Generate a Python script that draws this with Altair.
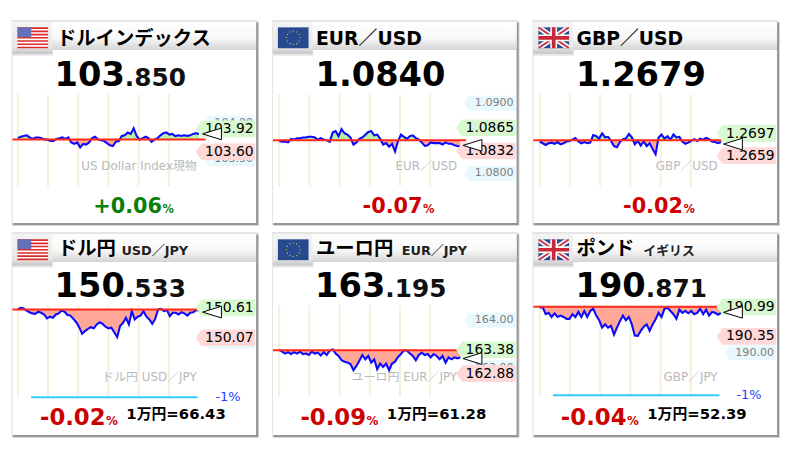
import altair as alt
import numpy as np
import pandas as pd

FONT = "DejaVu Sans, Noto Sans CJK JP"
W, H = 246, 203
PX_PER_HOUR = 30.5

# change against the previous close, in pips / hundredths
usd_index_moves = [2,4,5,6,3,1,3,3,2,0,0,-2,-2,1,2,3,1,3,-4,-6,-4,-11,-6,-7,-4,2,4,0,-1,-2,-5,-8,-9,-3,-2,5,6,10,8,16,5,0,2,4,2,-3,0,2,6,9,10,7,8,5,6,5,6,5,6,8,9,8]
eur_usd_moves = [-1,-2,-2,-3,2,1,3,3,4,4,5,5,4,1,3,1,0,-2,11,13,6,16,10,8,4,-6,-3,2,4,8,12,13,7,8,2,-6,-4,-9,-5,-16,-1,8,5,2,6,7,3,1,-3,-8,-7,-3,-4,-4,-4,-6,-3,-5,-5,-7,-8,-9]
gbp_usd_moves = [-2,-5,-8,-5,-4,-6,-3,-7,-5,-2,-1,1,4,-2,-5,-3,-5,-4,9,7,3,12,5,6,-1,-10,-12,-3,2,3,11,5,-7,-1,-9,-2,-10,-5,-15,-24,5,10,3,7,1,10,5,6,-2,-6,-4,-1,2,-1,3,1,4,2,-2,-3,-5,-3]
usd_jpy_moves = [0,3,2,-2,-5,-7,-8,-4,-6,-9,-16,-13,-15,-9,-7,-2,-4,-10,-11,-17,-23,-32,-44,-39,-35,-32,-34,-27,-23,-26,-31,-34,-33,-41,-50,-30,-24,-15,-27,-3,-18,-13,-11,-3,-13,-18,-26,-17,0,1,-3,-1,-12,-6,-6,-9,-5,-7,-11,-6,-5,-1,-2]
eur_jpy_moves = [1,-3,-7,-4,-8,-4,-7,-3,-8,-7,-10,-3,-7,-5,-11,-4,-10,-1,2,-7,-12,-21,-24,-26,-29,-42,-33,-22,-10,-19,-12,-26,-19,-40,-28,-35,-28,-42,-28,-24,-14,-8,0,-1,-7,-12,-21,-10,-5,-10,-8,-15,-8,-12,-19,-12,-26,-15,-19,-15,-17,-15]
gbp_jpy_moves = [-2,-1,-16,-13,-22,-14,-22,-19,-22,-26,-26,-16,-22,-11,-22,-9,-22,-9,-4,-19,-29,-45,-38,-45,-41,-60,-45,-31,-19,-29,-22,-38,-62,-63,-52,-43,-38,-52,-38,-27,-13,-22,-4,-2,-9,-16,-26,-6,-13,-9,-14,-9,-16,-13,-4,-16,-6,-19,-11,-13,-17,-13]

titles = ["ドルインデックス", "EUR／USD", "GBP／USD", "ドル円", "ユーロ円", "ポンド"]
subtitles = ["", "", "", "USD／JPY", "EUR／JPY", "イギリス"]
watermarks = ["US Dollar Index現物", "EUR／USD", "GBP／USD", "ドル円 USD／JPY", "ユーロ円 EUR／JPY", "GBP／JPY"]
flags = ["us", "eu", "uk", "us", "eu", "uk"]
prices_whole = ["103", "1.0840", "1.2679", "150", "163", "190"]
prices_frac = [".850", "", "", ".533", ".195", ".871"]
current = [103.85, 1.0840, 1.2679, 150.533, 163.195, 190.871]
changes = ["+0.06", "-0.07", "-0.02", "-0.02", "-0.09", "-0.04"]
per_10k = ["", "", "", "1万円=66.43", "1万円=61.28", "1万円=52.39"]
prev_close = [103.77, 1.08472, 1.26854, 150.58, 163.37, 190.99]
units = [0.01, 0.0001, 0.0001, 0.01, 0.01, 0.01]
y_domains = [[102.60, 105.42], [1.07296, 1.10155], [1.25432, 1.2889], [148.313, 151.946], [161.593, 165.81], [188.22, 192.566]]
highs = [103.92, 1.0865, 1.2697, 150.61, 163.38, 190.99]
lows = [103.60, 1.0832, 1.2659, 150.07, 162.88, 190.35]
high_labels = ["103.92", "1.0865", "1.2697", "150.61", "163.38", "190.99"]
low_labels = ["103.60", "1.0832", "1.2659", "150.07", "162.88", "190.35"]
round_prices = [[104.00, 103.50], [1.09, 1.08], [1.27], [150.00], [164.00, 163.00], [190.00]]
round_labels = [["104.00", "103.50"], ["1.0900", "1.0800"], ["1.2700"], ["150.00"], ["164.00", "163.00"], ["190.00"]]
minus_one = [None, None, None, 148.996, None, 189.076]
moves = [usd_index_moves, eur_usd_moves, gbp_usd_moves, usd_jpy_moves, eur_jpy_moves, gbp_jpy_moves]
hour_ticks = [0, 1, 2, 3, 4, 5]
x_starts = [5.4, 6.3, 6.4, 5.4, 6.3, 6.4]


def box(x0, y0, x1, y1):
    return f"M{x0:.3f},{y0:.3f}L{x1:.3f},{y0:.3f}L{x1:.3f},{y1:.3f}L{x0:.3f},{y1:.3f}Z"


def txt(text, x, y, size, color="#000", align="left", weight="normal"):
    return alt.Chart().mark_text(
        text=text, font=FONT, fontSize=size, color=color, align=align, baseline="alphabetic", fontWeight=weight
    ).encode(x=alt.value(x), y=alt.value(y))


def rect(x0, y0, x1, y1, fill, opacity=1):
    return alt.Chart().mark_rect(color=fill, opacity=opacity).encode(
        x=alt.value(x0), x2=alt.value(x1), y=alt.value(y0), y2=alt.value(y1))


def shape(path, color, cx=20.5, cy=16, size=961):
    return alt.Chart().mark_point(shape=path, filled=True, color=color, opacity=1, strokeWidth=0, size=size).encode(
        x=alt.value(cx), y=alt.value(cy))


def gradient(stops):
    return alt.LinearGradient(gradient="linear", x1=0, x2=0, y1=0, y2=1,
                              stops=[alt.GradientStop(offset=o, color=c) for o, c in stops])


def flag_layers(kind):
    T, B = -0.68, 0.68
    if kind == "us":
        stripes = "".join(box(-1, T + i * 0.1046, 1, T + (i + 1) * 0.1046) for i in range(0, 13, 2))
        return [shape(box(-1, T, 1, B), "#ffffff"), shape(stripes, "#dc2a2a"),
                shape(box(-1, T, -0.1, -0.04), "#6470b8")]
    if kind == "eu":
        dots = "".join(
            box(0.44 * np.cos(a) - 0.035, 0.44 * np.sin(a) - 0.035, 0.44 * np.cos(a) + 0.035, 0.44 * np.sin(a) + 0.035)
            for a in np.arange(12) * np.pi / 6)
        return [shape(box(-1, T, 1, B), "#27498f"), shape(dots, "#d8c24a")]
    diag = lambda w: (f"M-1,{T}L{-1 + w},{T}L1,{B - w * 0.68}L1,{B}L{1 - w},{B}L-1,{T + w * 0.68}Z"
                      f"M1,{T}L{1 - w},{T}L-1,{B - w * 0.68}L-1,{B}L{-1 + w},{B}L1,{T + w * 0.68}Z")
    return [shape(box(-1, T, 1, B), "#2b4c8e"), shape(diag(0.3), "#ffffff"), shape(diag(0.11), "#c8384a"),
            shape(box(-1, -0.22, 1, 0.22) + box(-0.22, T, 0.22, B), "#ffffff"),
            shape(box(-1, -0.12, 1, 0.12) + box(-0.12, T, 0.12, B), "#c8283a")]


def panel(i):
    row2 = i >= 3
    x0 = x_starts[i]
    xs = alt.Scale(domain=[-x0 / PX_PER_HOUR, (W - x0) / PX_PER_HOUR], nice=False, zero=False)
    ys = alt.Scale(domain=y_domains[i], nice=False, zero=False)
    X = lambda f: alt.X(f, scale=xs, axis=None)
    Y = lambda f: alt.Y(f, scale=ys, axis=None)

    base = prev_close[i]
    vals = base + np.array(moves[i]) * units[i]
    s = pd.DataFrame({"hour": np.linspace(0, 6, len(vals)), "price": vals, "base": base})
    s["hi"] = s[["price", "base"]].max(axis=1)
    s["lo"] = s[["price", "base"]].min(axis=1)

    L = [rect(-1, -2, W + 2, H + 2, "#000", 0.10), rect(0, 0, W + 3, H + 3, "#000", 0.16),
         rect(1, 1, W + 2, H + 2, "#000", 0.22), rect(0, 0, W, H, "#ffffff")]
    # header band and flag tab
    L.append(alt.Chart().mark_rect(color=gradient([(0, "#ffffff"), (0.6, "#f8f8f8"), (1, "#d8d8d8")])).encode(
        x=alt.value(0), x2=alt.value(W), y=alt.value(0), y2=alt.value(27)))
    L.append(rect(0, 27, W, 28, "#c8c8c8"))
    L.append(rect(0, 28, 41, 34, "#000", 0.10))
    L.append(alt.Chart().mark_rect(color=gradient([(0, "#f4f4f4"), (0.8, "#e8e8e8"), (1, "#c4c4c4")])).encode(
        x=alt.value(0), x2=alt.value(40), y=alt.value(0), y2=alt.value(32)))
    L += flag_layers(flags[i])
    if row2:
        L.append(txt(titles[i], 43.5 if i > 3 else 46, 21, 19.5, weight="bold"))
        L.append(txt(subtitles[i], [110, 130, 111][i - 3], 21, 13, "#222", weight="bold"))
    else:
        L.append(txt(titles[i], 45 if i == 0 else 43.5, 23, 19.5 if i == 0 else 19, weight="bold"))

    # price
    base_y = 64 if row2 else 65
    if prices_frac[i]:
        sp = 113.5
        L.append(txt(prices_whole[i], sp, base_y, 34, align="right", weight="bold"))
        L.append(txt(prices_frac[i], sp, base_y, 25, "#111", weight="bold"))
    else:
        L.append(txt(prices_whole[i], 43, base_y, 34, weight="bold"))

    # hour lines
    top, bot = (72, 164) if row2 else (73, 166)
    L.append(alt.Chart(pd.DataFrame({"hour": hour_ticks})).mark_rule(color="#f1f1dd", strokeWidth=2).encode(
        x=X("hour:Q"), y=alt.value(top), y2=alt.value(bot)))
    L.append(txt(watermarks[i], 186, 149, 12, "#b9b9b9", align="right"))

    # fills, line, close
    L.append(alt.Chart(s).mark_area(color="#b9f0a2", opacity=1).encode(x=X("hour:Q"), y=Y("hi:Q"), y2="base:Q"))
    L.append(alt.Chart(s).mark_area(color="#ffa898", opacity=1).encode(x=X("hour:Q"), y=Y("lo:Q"), y2="base:Q"))
    L.append(alt.Chart(s).mark_line(color="#0a0aff", strokeWidth=2.1).encode(x=X("hour:Q"), y=Y("price:Q")))
    L.append(alt.Chart(pd.DataFrame({"p": [base]})).mark_rule(color="#ff2a1a", strokeWidth=2).encode(
        x=alt.value(0), x2=alt.value(195), y=Y("p:Q")))

    # -1 % guide
    if minus_one[i] is not None:
        m = pd.DataFrame({"p": [minus_one[i]], "a": [0.44], "b": [5.95]})
        L.append(alt.Chart(m).mark_rule(color="#33ccff", strokeWidth=2).encode(
            x=X("a:Q"), x2="b:Q", y=Y("p:Q")))
        L.append(alt.Chart(m).mark_text(text="-1%", font=FONT, fontSize=13, color="#2040ff", align="left",
                                        baseline="middle").encode(x=alt.value(205), y=Y("p:Q")))

    # price tags
    blue_tag = "M-1,0L-0.8,-0.29L1,-0.29L1,0.29L-0.8,0.29Z"
    tag = "M-1,0L-0.8,-0.28L1,-0.28L1,0.28L-0.8,0.28Z"
    r = pd.DataFrame({"p": round_prices[i], "t": round_labels[i]})
    L.append(alt.Chart(r).mark_point(shape=blue_tag, filled=True, color="#e8f8fc", opacity=1, strokeWidth=0,
                                     size=52 ** 2).encode(x=alt.value(219), y=Y("p:Q")))
    L.append(alt.Chart(r).mark_text(font=FONT, fontSize=11.2, color="#808080", align="right", baseline="middle").encode(
        x=alt.value(243), y=Y("p:Q"), text="t:N"))
    for p, t, c in [(highs[i], high_labels[i], "#d8f9d0"), (lows[i], low_labels[i], "#ffd8d8")]:
        d = pd.DataFrame({"p": [p], "t": [t]})
        L.append(alt.Chart(d).mark_point(shape=tag, filled=True, color=c, opacity=1, strokeWidth=0,
                                         size=60 ** 2).encode(x=alt.value(215), y=Y("p:Q")))
        L.append(alt.Chart(d).mark_text(font=FONT, fontSize=14, color="#000", align="right", baseline="middle").encode(
            x=alt.value(243.5), y=Y("p:Q"), text="t:N"))
    # current price marker
    L.append(alt.Chart(pd.DataFrame({"p": [current[i]]})).mark_point(
        shape="M-1,0L1,-0.62L1,0.62Z", filled=True, fill="#ffffff", stroke="#000000", strokeWidth=1, opacity=1,
        size=19 ** 2).encode(x=alt.value(201.5), y=Y("p:Q")))

    # change
    col = "#0a7d0a" if changes[i].startswith("+") else "#cc0000"
    if row2:
        L.append(txt(changes[i], 94, 192.5, 23, col, "right", "bold"))
        L.append(txt("%", 94.5, 192.5, 12, col, weight="bold"))
        L.append(txt(per_10k[i], 115, 186.5, 15, weight="bold"))
    else:
        L.append(txt(changes[i], 151, 192.5, 21, col, "right", "bold"))
        L.append(txt("%", 151.5, 192.5, 11.5, col, weight="bold"))
    return alt.layer(*L).properties(width=W, height=H)


chart = alt.concat(*[panel(i) for i in range(6)], columns=3, spacing={"column": 17, "row": 11}, bounds="flush").properties(
    padding={"left": 3.5, "top": 10, "right": 0, "bottom": 0}, background="#ffffff"
).configure_view(stroke=None)

chart.save("out.html", embed_options={"renderer": "svg", "actions": False})
